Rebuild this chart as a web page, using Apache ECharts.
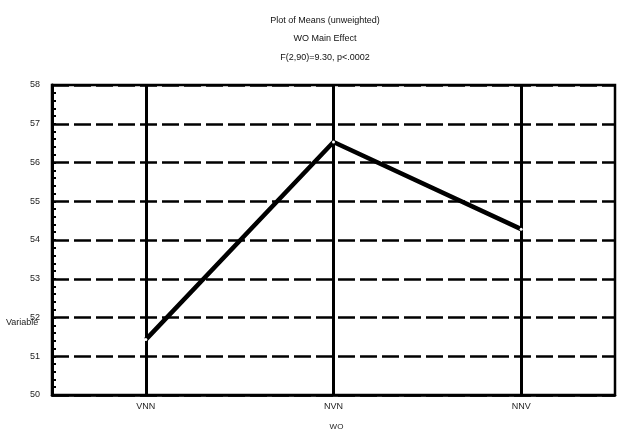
<!DOCTYPE html>
<html>
<head>
<meta charset="utf-8">
<script src="https://cdn.jsdelivr.net/npm/echarts@6/dist/echarts.min.js"></script>
<style>
  html, body { margin: 0; padding: 0; background: #fff; }
  #chart { width: 619px; height: 436px; }
</style>
</head>
<body>
<div id="chart"></div>
<script>
// Word-order conditions on the x axis
const categories = ['VNN', 'NVN', 'NNV'];
// Unweighted means per condition
const means = [51.43, 56.53, 54.28];
// Y axis range and step
const yMin = 50;
const yMax = 58;
const yStep = 1;

const titleLines = ['Plot of Means (unweighted)', 'WO Main Effect', 'F(2,90)=9.30, p<.0002'];
const font = 'Liberation Sans, Arial, sans-serif';

const chart = echarts.init(document.getElementById('chart'), null, { renderer: 'canvas' });

chart.setOption({
  backgroundColor: '#ffffff',
  animation: false,
  title: titleLines.map((t, i) => ({
    text: t,
    left: 320,
    textAlign: 'center',
    top: 11 + i * 18.5,
    textStyle: { fontFamily: font, fontSize: 9, fontWeight: 'normal', color: '#111' }
  })),
  grid: { left: 52, right: 4, top: 85, bottom: 38, show: true, borderColor: '#000', borderWidth: 2.5 },
  xAxis: {
    type: 'category',
    data: categories,
    boundaryGap: true,
    name: 'WO',
    nameLocation: 'middle',
    nameGap: 28,
    nameTextStyle: { fontFamily: font, fontSize: 8, color: '#222', padding: [0, 0, 0, 6] },
    axisLine: { lineStyle: { color: '#000', width: 2.5 } },
    axisTick: { show: false },
    axisLabel: { fontFamily: font, fontSize: 9, color: '#222', margin: 7 },
    splitLine: { show: false }
  },
  yAxis: {
    type: 'value',
    min: yMin,
    max: yMax,
    interval: yStep,
    axisLine: { show: true, lineStyle: { color: '#000', width: 3 } },
    axisTick: { show: true, inside: true, length: 4, lineStyle: { color: '#000', width: 2 } },
    minorTick: { show: true, splitNumber: 5, length: 4, lineStyle: { color: '#000', width: 2 } },
    axisLabel: { fontFamily: font, fontSize: 9, color: '#222', margin: 12 },
    splitLine: { show: true, lineStyle: { color: '#000', width: 2.5, type: [17, 5] } }
  },
  graphic: [{
    type: 'text',
    left: 6,
    top: 318,
    style: { text: 'Variable', fontFamily: font, fontSize: 9, fill: '#222' }
  }],
  series: [{
    type: 'line',
    data: means,
    symbol: 'circle',
    symbolSize: 3,
    itemStyle: { color: '#fff', borderWidth: 0 },
    lineStyle: { color: '#000', width: 4.5 },
    z: 5,
    markLine: {
      silent: true,
      symbol: 'none',
      label: { show: false },
      lineStyle: { color: '#000', width: 3, type: 'solid' },
      z: 3,
      data: categories.map(c => ({ xAxis: c }))
    }
  }]
});
</script>
</body>
</html>
